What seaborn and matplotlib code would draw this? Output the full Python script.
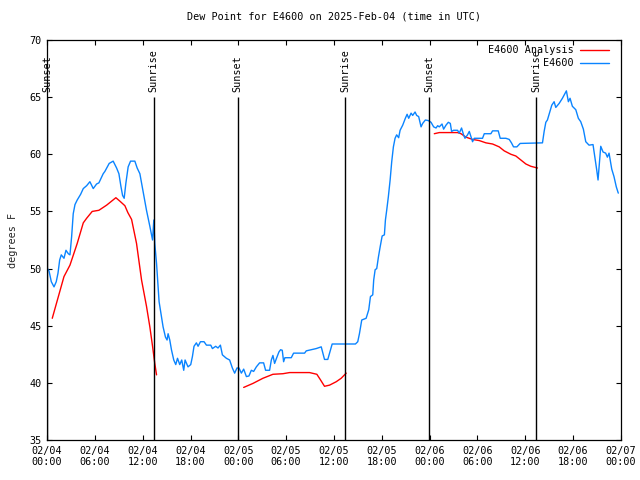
"""
Dew point for E4600, observations vs analysis, with sunrise/sunset markers.
Saves out.png (640x480).
"""
from datetime import datetime, timedelta

import matplotlib.pyplot as plt
import pandas as pd
import seaborn as sns

# hours after 2025-02-04 00:00 UTC
OBS_HOURS = [
    0.04, 0.25, 0.54, 0.88, 1.16, 1.38, 1.59, 1.79, 2.13, 2.38, 2.67, 2.88,
    3.09, 3.29, 3.51, 3.79, 4.22, 4.55, 4.97, 5.38, 5.80, 6.22, 6.51, 7.05,
    7.26, 7.80, 8.30, 8.73, 9.02, 9.27, 9.48, 9.68, 9.89, 10.18, 10.48, 11.02,
    11.31, 11.65, 12.06, 12.48, 12.90, 13.24, 13.40, 13.52, 13.74, 14.06, 14.36,
    14.56, 14.86, 15.06, 15.19, 15.40, 15.61, 15.90, 16.15, 16.37, 16.65, 16.90,
    17.15, 17.32, 17.69, 18.03, 18.24, 18.44, 18.74, 18.95, 19.25, 19.70, 20.00,
    20.54, 20.75, 21.16, 21.45, 21.75, 22.00, 22.50, 22.91, 23.25, 23.54, 23.83,
    24.08, 24.38, 24.67, 25.01, 25.33, 25.63, 25.92, 26.26, 26.67, 27.17, 27.42,
    27.92, 28.14, 28.34, 28.55, 28.76, 29.09, 29.30, 29.51, 29.68, 29.84, 30.64,
    30.93, 32.31, 32.52, 33.77, 34.40, 34.60, 34.81, 35.22, 35.44, 35.77, 38.69,
    38.98, 39.19, 39.48, 40.03, 40.36, 40.57, 40.86, 40.98, 41.16, 41.36, 41.57,
    41.79, 42.04, 42.32, 42.45, 42.61, 42.82, 43.04, 43.24, 43.45, 43.66, 43.86,
    44.11, 44.29, 44.62, 44.95, 45.17, 45.37, 45.67, 45.87, 46.17, 46.37, 46.62,
    46.92, 47.12, 47.46, 47.83, 48.17, 48.50, 48.80, 49.00, 49.21, 49.55, 49.75,
    50.05, 50.34, 50.59, 50.75, 51.00, 51.50, 51.71, 52.00, 52.13, 52.25, 52.43,
    52.75, 52.97, 53.18, 53.38, 53.59, 54.63, 54.85, 55.68, 55.89, 56.60, 56.85,
    57.56, 57.98, 58.26, 58.52, 58.94, 59.35, 62.15, 62.36, 62.57, 62.77, 63.07,
    63.32, 63.61, 63.82, 64.24, 64.65, 64.99, 65.15, 65.40, 65.61, 65.90, 66.33,
    66.65, 66.95, 67.28, 67.58, 67.99, 68.49, 68.74, 68.96, 69.12, 69.25, 69.46,
    69.75, 70.08, 70.29, 70.50, 70.84, 71.12, 71.41, 71.66,
]
OBS_DEWPT = [
    50.0, 49.8, 48.85, 48.4, 48.85, 49.6, 50.75, 51.2, 50.9, 51.6, 51.3, 51.2,
    52.8, 54.8, 55.6, 56.0, 56.5, 57.0, 57.25, 57.6, 57.0, 57.4, 57.5, 58.3,
    58.5, 59.2, 59.4, 58.8, 58.3, 57.2, 56.4, 56.15, 57.45, 58.9, 59.4, 59.4,
    58.8, 58.3, 56.7, 55.1, 53.7, 52.5, 54.25, 52.2, 50.45, 47.1, 45.8,
    44.9, 44.0, 43.75, 44.3, 43.75, 42.9, 42.0, 41.6, 42.15, 41.6, 42.0,
    41.1, 42.0, 41.4, 41.6, 42.3, 43.2, 43.5, 43.2, 43.6, 43.6, 43.3,
    43.3, 43.0, 43.2, 43.05, 43.3, 42.45, 42.15, 42.0, 41.3, 40.85, 41.3,
    41.3, 40.85, 41.2, 40.55, 40.6, 41.1, 41.0, 41.4, 41.75, 41.75, 41.1,
    41.1, 42.0, 42.4, 41.7, 42.1, 42.7, 42.9, 42.85, 41.85, 42.2, 42.2,
    42.6, 42.6, 42.8, 43.0, 43.15, 42.6, 42.05, 42.05, 42.6, 43.4, 43.4,
    43.6, 44.3, 45.5, 45.65, 46.4, 47.55, 47.7, 49.0, 49.9, 50.0, 51.0,
    51.9, 52.85, 52.95, 54.25, 55.1, 56.3, 57.75, 59.35, 60.65, 61.4, 61.7,
    61.45, 62.1, 62.55, 63.15, 63.5, 63.15, 63.6, 63.4, 63.7, 63.4, 63.3,
    62.4, 62.7, 63.0, 62.95, 62.8, 62.4, 62.3, 62.5, 62.4, 62.65, 62.2,
    62.55, 62.8, 62.7, 62.0, 62.1, 62.1, 61.85, 62.3, 62.0, 61.7, 61.4,
    61.7, 62.0, 61.55, 61.1, 61.4, 61.4, 61.8, 61.8, 62.05, 62.05, 61.4,
    61.4, 61.3, 61.0, 60.65, 60.65, 60.95, 61.0, 62.0, 62.8, 63.0, 63.7,
    64.3, 64.6, 64.1, 64.45, 64.9, 65.35, 65.55, 64.6, 64.9, 64.2, 63.9,
    63.15, 62.85, 62.2, 61.1, 60.8, 60.85, 59.65, 58.6, 57.75, 58.9, 60.7,
    60.2, 60.1, 59.75, 60.1, 58.7, 58.05, 57.15, 56.6,
]

# analysis comes in three separate runs
ANL_HOURS = [
    [0.66, 2.13, 2.88, 3.79, 4.55, 4.97, 5.67, 6.51, 7.05, 7.48, 8.64, 9.14,
     9.77, 10.14, 10.61, 11.23, 11.86, 12.48, 12.90, 13.24, 13.52, 13.74],
    [24.67, 25.83, 27.08, 28.34, 29.59, 30.43, 32.93, 33.85, 34.27, 34.81,
     35.44, 36.28, 36.90, 37.53],
    [48.58, 49.21, 51.50, 51.93, 52.55, 53.38, 54.22, 55.06, 55.89, 56.72,
     57.35, 58.19, 58.81, 59.44, 60.07, 60.69, 61.52],
]
ANL_DEWPT = [
    [45.65, 49.3, 50.3, 52.2, 54.0, 54.4, 55.0, 55.1, 55.35, 55.55, 56.2, 55.9,
     55.5, 54.9, 54.3, 52.2, 49.0, 46.7, 44.9, 43.2, 41.7, 40.7],
    [39.6, 39.95, 40.4, 40.75, 40.8, 40.9, 40.9, 40.75, 40.3, 39.7,
     39.8, 40.1, 40.4, 40.85],
    [61.8, 61.9, 61.9, 61.8, 61.5, 61.3, 61.2, 61.0, 60.9, 60.65,
     60.3, 60.0, 59.85, 59.5, 59.15, 58.95, 58.8],
]

SUN_HOURS = [0.0, 13.40, 23.92, 37.44, 47.96, 61.36]
SUN_EVENTS = ["Sunset", "Sunrise", "Sunset", "Sunrise", "Sunset", "Sunrise"]

START = datetime(2025, 2, 4)
TITLE = "Dew Point for E4600 on 2025-Feb-04 (time in UTC)"
FS = 7.3

sns.set_theme(style="white")
plt.rcParams["font.family"] = ["DejaVu Sans Mono", "DejaVu Sans"]
plt.rcParams["text.color"] = "black"

obs = pd.DataFrame({"hour": OBS_HOURS, "dewpt": OBS_DEWPT})

fig = plt.figure(figsize=(6.4, 4.8), dpi=100)
ax = fig.add_axes([47 / 640, 40 / 480, 574 / 640, 400 / 480])

for i, (h, v) in enumerate(zip(ANL_HOURS, ANL_DEWPT)):
    sns.lineplot(x=h, y=v, estimator=None, sort=False, color="#ff0000",
                 linewidth=1.0, ax=ax, label="E4600 Analysis" if i == 0 else None)
sns.lineplot(data=obs, x="hour", y="dewpt", estimator=None, sort=False,
             color="#0a84ff", linewidth=1.0, ax=ax, label="E4600")

# sunrise / sunset markers
ax.vlines(SUN_HOURS, 35, 65, color="black", linewidth=1.0)
for h, ev in zip(SUN_HOURS, SUN_EVENTS):
    ax.text(h, 65.45, ev, rotation=90, ha="center", va="bottom", fontsize=FS)

ax.set_xlim(0, 72)
ax.set_ylim(35, 70)
xt = list(range(0, 73, 6))
ax.set_xticks(xt)
ax.set_xticklabels([(START + timedelta(hours=h)).strftime("%m/%d\n%H:%M") for h in xt])
ax.set_yticks(range(35, 71, 5))
ax.tick_params(direction="in", length=3.5, width=0.8, labelsize=FS,
               top=True, right=True, bottom=True, left=True, pad=4, colors="black")
for s in ax.spines.values():
    s.set_color("black")
    s.set_linewidth(0.9)

ax.set_xlabel("")
ax.set_ylabel("degrees F", fontsize=FS, labelpad=8)
ax.set_title(TITLE, fontsize=FS, pad=15)
ax.grid(False)

handles, labels = ax.get_legend_handles_labels()
ax.legend(handles[:2], labels[:2], loc="upper right",
          bbox_to_anchor=(1 - 7 / 574, 1), frameon=False,
          markerfirst=False, fontsize=FS, handlelength=2.9, handletextpad=0.6,
          labelspacing=0.3, borderaxespad=0.3, borderpad=0.2)

fig.savefig("out.png", dpi=100)
